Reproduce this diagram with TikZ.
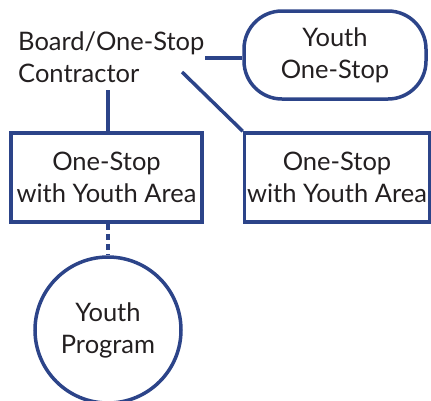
\documentclass[tikz,border=0pt]{standalone}
\usepackage{fontspec}
\setmainfont{Lato}
\definecolor{navy}{HTML}{2C4489}
\definecolor{ink}{HTML}{231F20}
\begin{document}
\begin{tikzpicture}[x=1pt,y=-1pt,
  txt/.style={text=ink,font=\fontsize{25.5}{32}\selectfont,align=center},
  shp/.style={draw=navy,line width=3.5pt,txt,inner sep=0pt},
  conn/.style={draw=navy,line width=3.5pt}]
\useasboundingbox (0,0) rectangle (431,400);
\node[shp,rounded corners=38pt,minimum width=182pt,minimum height=88pt] (yos) at (335,55) {Youth\\One-Stop};
\node[txt,align=left,anchor=west,inner sep=0pt] (board) at (18,57) {Board/One-Stop\\Contractor};
\node[shp,minimum width=191pt,minimum height=89pt] (lbox) at (106.5,177.5) {One-Stop\\with Youth Area};
\node[shp,minimum width=185pt,minimum height=89pt] (rbox) at (337,177.5) {One-Stop\\with Youth Area};
\node[shp,circle,minimum size=146pt] (prog) at (108,330) {Youth\\Program};
\coordinate (bright) at (205,58);
\coordinate (bdiag) at (182,72);
\coordinate (bdown) at (108,90);
\draw[conn] (bright) -- (yos.west |- bright);
\draw[conn] (bdiag) -- (rbox.north west);
\draw[conn] (bdown) -- (bdown |- lbox.north);
\draw[conn,dash pattern=on 6pt off 4pt] (lbox.south -| prog.north) -- (prog.north);
\end{tikzpicture}
\end{document}
